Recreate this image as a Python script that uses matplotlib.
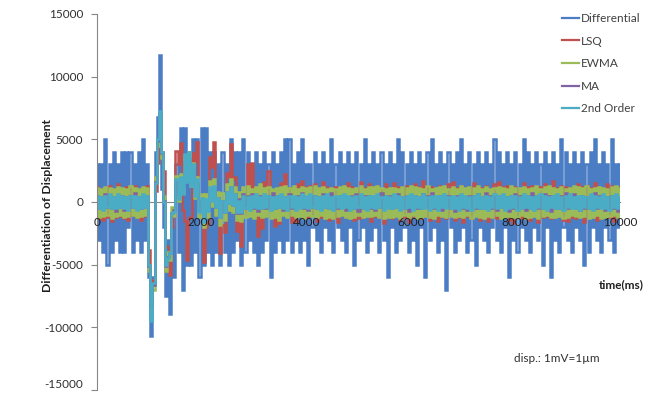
import numpy as np
import matplotlib
matplotlib.use("Agg")
import matplotlib.pyplot as plt

plt.rcParams['font.family'] = ['Lato', 'DejaVu Sans']
plt.rcParams['axes.unicode_minus'] = False
plt.rcParams['path.simplify'] = False
plt.rcParams['agg.path.chunksize'] = 0

# ---------------- data (values in units of 100, sampled every 40 ms) ----------------
UNIT = 100
SAMPLE_MS = 40

series_names = ["Differential", "LSQ", "EWMA", "MA", "2nd Order"]
series_colors = ["#4A7DC4", "#C0504D", "#9BBB59", "#8064A2", "#4BACC6"]

differential = [
    30, -30, 30, -40, 50, -50, 30, -40, 40, -30,
    30, -40, 40, -40, 40, -20, 40, -40, 30, -30,
    40, -40, 50, -30,
    30, -60, -107, -60, 40, 68, 117, 10, -20, -75,
    -30, -89, -20, -60, 30, -40, 59, -70, 59, -50,
    40, -50, 50, -40, 50, -60, 59, -50, 59, -40,
    40, -50, 40, -40, 30, -50,
    40, -40, 30, -50, 50, -40, 40, -30, 40, -50,
    50, -40, 40, -30, 30, -40, 40, -50, 30, -40,
    40, -30, 30, -60, 40, -40, 30, -30, 40, -40,
    50, -30, 50, -40, 30, -30, 40, -40, 50, -30,
    30,
    -50, 30, -20, 40, -30, 30, -40, 40, -20, 30,
    -30, 50, -40, 30, -20, 40, -30, 30, -40, 40,
    -20, 30, -50, 40, -30, 30, -20, 50, -40, 30,
    -30, 40, -20, 30, -40, 40, -30, 30, -60, 40,
    -20, 30, -40, 50, -30, 40, -20, 30, -40, 40,
    -30, 30, -50, 40, -20, 30, -60, 40, -30, 50,
    -20, 30, -40, 40, -30, 30, -70, 40, -20, 30,
    -40, 40, -30, 50, -20, 30, -40, 40, -30, 30,
    -50, 40, -20, 30, -30, 40, -40, 30, -20, 50,
    -30, 40, -40, 30, -20, 40, -60, 30, -30, 40,
    -40, 30, -20, 50, -30, 40, -40, 30, -20, 40,
    -30, 30, -50, 40, -20, 30, -60, 40, -30, 30,
    -40, 50, -20, 40, -30, 30, -40, 40, -20, 30,
    -30, 40, -50, 30, -40, 40, -20, 50, -30, 30,
    -40, 40, -20, 30, -30, 50, -40, 30, -20, 30,
]

lsq = [
    12, -13, 10, -14, 11, -12, 13, -15, 9, -12,
    14, -11, 10, -13, 12, -14, 11, -10, 13, -12,
    10, -14, 12, -11, 13,
    -38, -62, -63, 9, 31, 68, 40, 25, -35, -36,
    -58, -20, -11, 41, 30, 47, -6, -15, -46, -13,
    -12, 39, 32, 48, -2, -10, -48, -20, -17, 36,
    28, 48, 0, -4, -41, -18, -24, 23, 20, 46,
    18, 20, -23, -12, -35, -1, -7, 30, 11, 31,
    -7, 3, -27, -5, -21, 16, 1, 25, -4, 9,
    -19, 4, -17, 15, -3, 22, -7, 11, -16, 6,
    -15, 14, -8, 17, -11, 12,
    -12, 13, -10, 14, -15, 11, -12, 16, -11, 12,
    -14, 10, -13, 12, -16, 11, -10, 13, -12, 15,
    -11, 12, -14, 10, -13, 16, -12, 11, -10, 14,
    -15, 12, -11, 13, -12, 10, -17, 14, -12, 11,
    -13, 15, -10, 12, -14, 11, -12, 13, -16, 10,
    -11, 14, -12, 12, -13, 17, -10, 11, -14, 12,
    -12, 10, -15, 13, -11, 12, -13, 14, -10, 16,
    -14, 11, -12, 13, -16, 10, -11, 12, -13, 15,
    -10, 12, -14, 11, -12, 13, -15, 10, -12, 14,
    -13, 16, -11, 12, -10, 13, -14, 11, -17, 12,
    -12, 10, -13, 15, -11, 12, -14, 13, -10, 11,
    -16, 12, -12, 14, -11, 10, -13, 17, -12, 11,
    -10, 13, -14, 12, -15, 11, -12, 10, -13, 14,
    -11, 12, -16, 13, -10, 11, -12, 15, -14, 12,
    -13, 10, -11, 14, -12, 13, -15, 11, -10, 12,
]

ewma = [
    11, -12, 10, -11, 12, -10, 11, -13, 10, -11,
    12, -10, 11, -12, 10, -11, 13, -10, 11, -12,
    10, -11, 12, -10, 11,
    -55, -80, -70, 20, 45, 70, 35, 5, -55, -40,
    -46, -4, -11, 21, 1, 22, 7, 37, 17, 40,
    13, 31, 3, 20, -12, 6, -20, 6, -12, 17,
    -3, 18, -10, 8, -18, 7, -14, 14, -6, 18,
    -8, 12, -14, 8, -15, 12,
    -12, 13, -11, 10, -13, 12, -10, 14, -12, 11,
    -11, 12, -13, 10, -12, 11, -14, 12, -10, 13,
    -12, 11, -10, 13, -12, 10, -11, 12, -13, 11,
    -10, 12, -11, 13, -12, 11, -10, 12, -13, 10,
    -12, 11, -13, 10, -11, 12, -10, 13, -12, 11,
    -13, 10, -12, 11, -10, 13, -12, 10, -11, 12,
    -11, 12, -10, 13, -12, 11, -13, 10, -12, 11,
    -12, 11, -11, 10, -13, 12, -10, 11, -12, 13,
    -10, 12, -13, 11, -12, 10, -11, 13, -12, 10,
    -13, 11, -10, 12, -11, 13, -12, 10, -11, 12,
    -12, 10, -11, 13, -12, 11, -10, 12, -13, 11,
    -11, 13, -12, 10, -13, 12, -11, 10, -12, 11,
    -10, 12, -13, 11, -12, 10, -11, 13, -12, 11,
    -12, 11, -10, 12, -13, 10, -12, 11, -11, 13,
    -13, 10, -11, 12, -10, 13, -12, 11, -12, 10,
    -11, 12, -13, 10, -12, 11, -10, 13, -11, 12,
    -12, 11, -11, 13, -13, 10, -12, 11, -10, 12,
    -13, 11, -12, 10, -11, 12, -10, 13, -12, 11,
]

ma = [
    5, -5, 4, -5, 6, -4, 5, -5, 4, -7,
    5, -4, 5, -6, 4, -5, 5, -4, 7, -5,
    4, -5, 5, -4, 5,
    -51, -84, -66, 16, 49, 71, 39, 1, -51, -44,
    -41, -9, -6, 16, 6, 16, 12, 32, 22, 34,
    19, 26, 9, 14, -6, 1, -14, 0, -6, 11,
    2, 12, -4, 3, -12, 1, -8, 8, -1, 12,
    -2, 6, -9, 2, -9, 6,
    -5, 5, -4, 6, -5, 4, -7, 5, -5, 4,
    -5, 5, -4, 7, -5, 5, -4, 5, -6, 4,
    -5, 6, -5, 4, -5, 5, -4, 7, -5, 4,
    -6, 5, -4, 5, -5, 4, -5, 6, -4, 5,
    -5, 7, -5, 4, -5, 5, -4, 5, -6, 4,
    -4, 5, -5, 6, -7, 4, -5, 5, -4, 5,
    -5, 4, -6, 5, -4, 7, -5, 5, -4, 5,
    -5, 5, -4, 6, -5, 4, -5, 5, -7, 5,
    -4, 5, -5, 4, -5, 6, -4, 5, -5, 7,
    -5, 4, -5, 5, -6, 5, -4, 5, -5, 4,
    -7, 5, -4, 5, -5, 4, -6, 5, -4, 5,
    -5, 6, -5, 4, -5, 7, -4, 5, -5, 4,
    -6, 5, -4, 5, -5, 4, -7, 5, -5, 6,
    -4, 5, -5, 4, -6, 5, -5, 7, -4, 5,
    -5, 4, -5, 6, -4, 5, -7, 5, -5, 4,
    -5, 5, -4, 7, -5, 5, -4, 6, -5, 4,
    -6, 5, -5, 4, -5, 5, -4, 7, -5, 5,
    -4, 5, -6, 4, -5, 5, -5, 5, -7, 4,
]

second_order = [
    5, -5, 4, -6, 5, -4, 6, -5, 4, -5,
    6, -4, 5, -5, 4, -6, 5, -4, 5, -6,
    4, -5, 6, -4, 5,
    -50, -95, -65, 15, 50, 73, 40, 0, -50, -45,
    -41, -9, -8, 18, 2, 20, 6, 38, 16, 40,
    13, 30, 5, 18, -8, 3, -16, 2, -7, 12,
    1, 13, -4, 3, -12, 1, -8, 8, -1, 12,
    -2, 6, -8, 1, -8, 5,
    -5, 4, -6, 5, -4, 6, -5, 4, -5, 6,
    -4, 5, -6, 4, -5, 5, -4, 6, -5, 4,
    -6, 5, -4, 5, -6, 4, -5, 6, -4, 5,
    -5, 6, -4, 5, -5, 4, -6, 5, -4, 6,
    -5, 4, -6, 5, -4, 5, -5, 6, -4, 5,
    -6, 4, -5, 5, -4, 6, -5, 4, -6, 5,
    -4, 5, -5, 6, -4, 4, -6, 5, -5, 4,
    -5, 6, -4, 5, -6, 4, -5, 5, -4, 6,
    -6, 5, -4, 4, -5, 6, -5, 4, -6, 5,
    -4, 5, -6, 5, -4, 6, -5, 4, -5, 5,
    -5, 4, -6, 6, -4, 5, -5, 4, -6, 5,
    -4, 6, -5, 4, -5, 5, -6, 4, -4, 6,
    -5, 5, -4, 6, -6, 4, -5, 5, -4, 5,
    -6, 4, -5, 6, -4, 5, -5, 4, -6, 5,
    -4, 6, -5, 5, -6, 4, -4, 5, -5, 6,
    -5, 4, -6, 5, -4, 6, -5, 4, -5, 5,
    -6, 5, -4, 4, -5, 6, -6, 5, -4, 4,
    -5, 6, -5, 4, -6, 5, -4, 6, -5, 4,
]

x_ticks = [0, 2000, 4000, 6000, 8000, 10000]
y_ticks = [-15000, -10000, -5000, 0, 5000, 10000, 15000]

# ---------------- figure ----------------
W, H = 657, 394
fig = plt.figure(figsize=(W / 100, H / 100), dpi=100)
ax = fig.add_axes([97 / W, (H - 390) / H, 523 / W, 376 / H])

all_series = [differential, lsq, ewma, ma, second_order]
handles = []
for name, col, vals in zip(series_names, series_colors, all_series):
    v = np.array(vals, dtype=float) * UNIT
    t = np.arange(len(v)) * SAMPLE_MS
    ln, = ax.plot(t, v, color=col, lw=1.8, drawstyle='steps-mid',
                  solid_joinstyle='miter', zorder=2)
    handles.append(ln)

ax.set_xlim(0, 10000)
ax.set_ylim(-15000, 15000)
ax.set_xticks(x_ticks)
ax.set_yticks(y_ticks)
ax.set_xticklabels([str(v) for v in x_ticks])
ax.set_yticklabels([str(v) for v in y_ticks])

for s in ['top', 'right']:
    ax.spines[s].set_visible(False)
ax.spines['bottom'].set_position(('data', 0))
ax.spines['bottom'].set_color('#868686')
ax.spines['bottom'].set_zorder(1)
ax.spines['left'].set_color('#868686')
ax.spines['left'].set_linewidth(0.8)

ax.tick_params(axis='y', direction='out', length=4, color='#868686',
               labelsize=8.5, labelcolor='#303030', pad=6)
ax.tick_params(axis='x', length=0, labelsize=8.5, labelcolor='#202020', pad=11)
ax.xaxis.set_zorder(3)
ylabs = ax.get_yticklabels()
ylabs[0].set_va('bottom')

fig.text(48 / W, 1 - 206 / H, "Differentiation of Displacement", rotation=90,
         ha='center', va='center', fontsize=8.8, fontweight='bold', color='#202020')
fig.text(621 / W, 1 - 285 / H, "time(ms)", ha='center', va='center',
         fontsize=8.5, fontweight='bold', color='#202020')
fig.text(557 / W, 1 - 359 / H, "disp.: 1mV=1\u00b5m", ha='center', va='center',
         fontsize=8.5, color='#303030')

leg = ax.legend(handles, series_names, loc='upper left',
                bbox_to_anchor=(562 / W, 1 - 13 / H), bbox_transform=fig.transFigure,
                frameon=False, fontsize=8.5, handlelength=1.45, handletextpad=0.15,
                labelspacing=0.98, borderpad=0, borderaxespad=0)
for txt in leg.get_texts():
    txt.set_color('#404040')
for lh in leg.get_lines():
    lh.set_linewidth(1.6)
    lh.set_drawstyle('default')

fig.savefig("out.png", dpi=100)
